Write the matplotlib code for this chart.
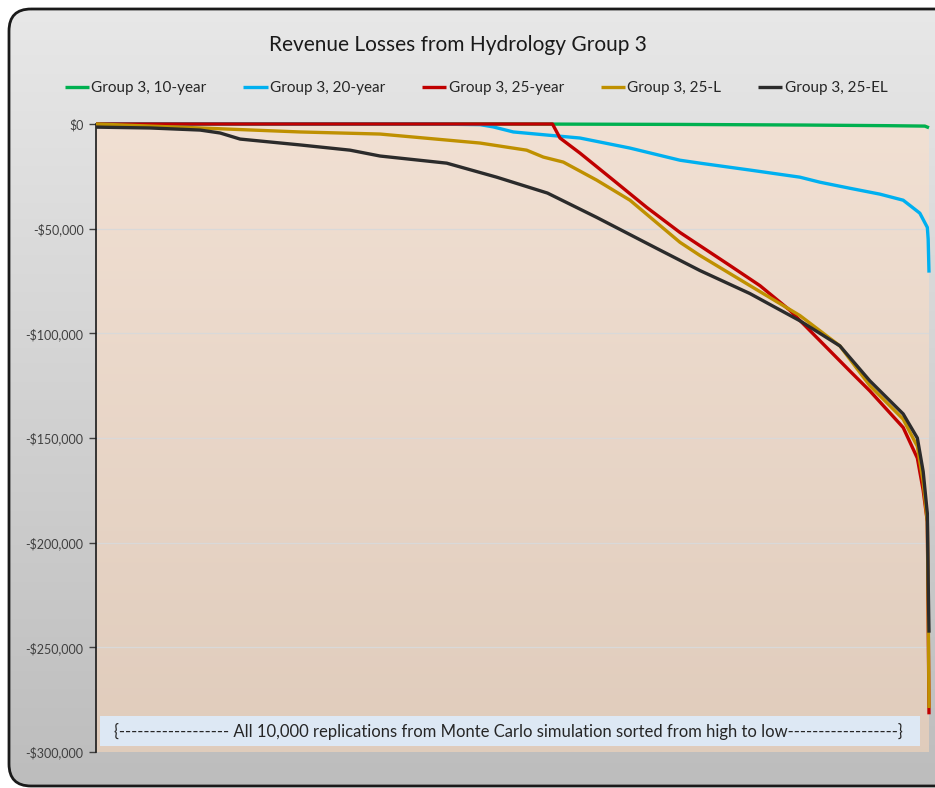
import numpy as np
import matplotlib.pyplot as plt
from matplotlib.patches import FancyBboxPatch, Rectangle

# replication index (sorted high to low) and revenue loss ($)
g10_x = [0, 5000, 7000, 8500, 9500, 9950, 10000]
g10_y = [0, 0, -200, -500, -800, -1000, -1800]

g20_x = [0, 4010, 4610, 4770, 5010, 5420, 5810, 6410, 7010, 7250, 7850, 8450,
         8690, 9050, 9410, 9690, 9890, 9980, 9990, 10000]
g20_y = [0, 0, -300, -1400, -3800, -5300, -6700, -11500, -17300, -18700, -22000,
         -25400, -27800, -30700, -33500, -36400, -42600, -49400, -55000, -71000]

g25_x = [0, 5480, 5570, 5810, 6210, 6610, 7010, 7610, 7970, 8330, 8690, 9050,
         9290, 9690, 9860, 9930, 9980, 9990, 10000]
g25_y = [0, 0, -6700, -13900, -26800, -39800, -51800, -67600, -77200, -89000,
         -103500, -118000, -127500, -145000, -159600, -175000, -190000, -235000, -282000]

g25l_x = [0, 1250, 2450, 3410, 4610, 5170, 5370, 5610, 6010, 6410, 7010, 7250,
          7850, 8450, 8930, 9290, 9690, 9860, 9930, 9980, 9990, 10000]
g25l_y = [0, -1900, -3800, -4800, -9100, -12500, -15800, -18200, -26800, -36400,
          -56500, -62800, -77200, -91500, -106000, -125000, -141000, -154000,
          -171000, -190000, -228000, -279000]

g25el_x = [0, 650, 1250, 1490, 1730, 2090, 2450, 3050, 3410, 4210, 4810, 5420,
           6010, 6730, 7250, 7850, 8450, 8930, 9290, 9690, 9860, 9930, 9980, 9990, 10000]
g25el_y = [-1500, -1900, -2900, -4300, -7200, -8600, -10000, -12500, -15300, -18700,
           -25400, -33000, -44600, -59400, -70000, -81000, -94000, -106000, -122700,
           -138500, -150000, -166000, -186000, -218000, -243000]

labels = ['Group 3, 10-year', 'Group 3, 20-year', 'Group 3, 25-year',
          'Group 3, 25-L', 'Group 3, 25-EL']
colors = ['#00b050', '#00b0f0', '#c00000', '#bf9000', '#2b2b2b']
yticks = [0, -50000, -100000, -150000, -200000, -250000, -300000]

plt.rcParams['font.family'] = ['Lato', 'DejaVu Sans']

W, H = 935, 788
fig = plt.figure(figsize=(W / 100, H / 100), dpi=100)

# chart area background with rounded border and grey gradient
bg = fig.add_axes([0, 0, 1, 1], zorder=-10)
bg.set_xlim(0, W)
bg.set_ylim(H, 0)
bg.axis('off')
grad = np.linspace(0, 1, 256).reshape(-1, 1)
top, bot = np.array([0.91, 0.91, 0.91]), np.array([0.74, 0.74, 0.74])
img = bg.imshow(top + (bot - top) * grad[..., None], extent=[0, W, H, 0], aspect='auto')
box = FancyBboxPatch((9, 9), 980, 777, boxstyle='round,pad=0,rounding_size=22',
                     facecolor='none', edgecolor='#1a1a1a', linewidth=2)
bg.add_patch(box)
img.set_clip_path(box)

ax = fig.add_axes([96 / W, 1 - 752 / H, (929 - 96) / W, (752 - 124) / H])
ax.set_xlim(0, 10000)
ax.set_ylim(-300000, 0)
ptop, pbot = np.array([0.945, 0.878, 0.827]), np.array([0.878, 0.80, 0.737])
ax.imshow(ptop + (pbot - ptop) * grad[..., None], extent=[0, 10000, -300000, 0],
          aspect='auto', zorder=0)
ax.set_facecolor('none')

for v in yticks[1:-1]:
    ax.axhline(v, color='#d9d9d9', linewidth=0.9, zorder=1)

series = [(g10_x, g10_y), (g20_x, g20_y), (g25_x, g25_y), (g25l_x, g25l_y), (g25el_x, g25el_y)]
for (xs, ys), lab, c in zip(series, labels, colors):
    ax.plot(xs, ys, color=c, linewidth=2.4, label=lab, zorder=3, clip_on=False,
            solid_capstyle='butt')

ax.set_yticks(yticks)
ax.set_yticklabels(['$0' if v == 0 else '-${:,}'.format(-v) for v in yticks],
                   fontsize=9, color='#404040')
ax.tick_params(axis='y', length=5, width=1, color='#404040', pad=4)
ax.set_xticks([])
for s in ['top', 'right', 'bottom']:
    ax.spines[s].set_visible(False)
ax.spines['left'].set_color('#1a1a1a')
ax.spines['left'].set_linewidth(1.2)

# note box along the bottom of the plot area
ax.add_patch(Rectangle((4 / 833, 6 / 628), 820 / 833, 30 / 628, transform=ax.transAxes,
                       facecolor='#dde8f4', edgecolor='none', zorder=4))
ax.text(0.495, 21 / 628, '{------------------ All 10,000 replications from Monte Carlo simulation '
        'sorted from high to low------------------}',
        transform=ax.transAxes, ha='center', va='center', fontsize=12, color='#262626',
        zorder=5)

fig.text(458 / W, 1 - 45 / H, 'Revenue Losses from Hydrology Group 3', ha='center',
         va='center', fontsize=15, color='#1a1a1a')

fig.legend(loc='center', bbox_to_anchor=(476 / W, 1 - 88 / H), ncol=5, frameon=False,
           fontsize=11, handlelength=1.6, handletextpad=0.15, columnspacing=2.4,
           labelcolor='#262626')

fig.savefig('out.png', dpi=100)
